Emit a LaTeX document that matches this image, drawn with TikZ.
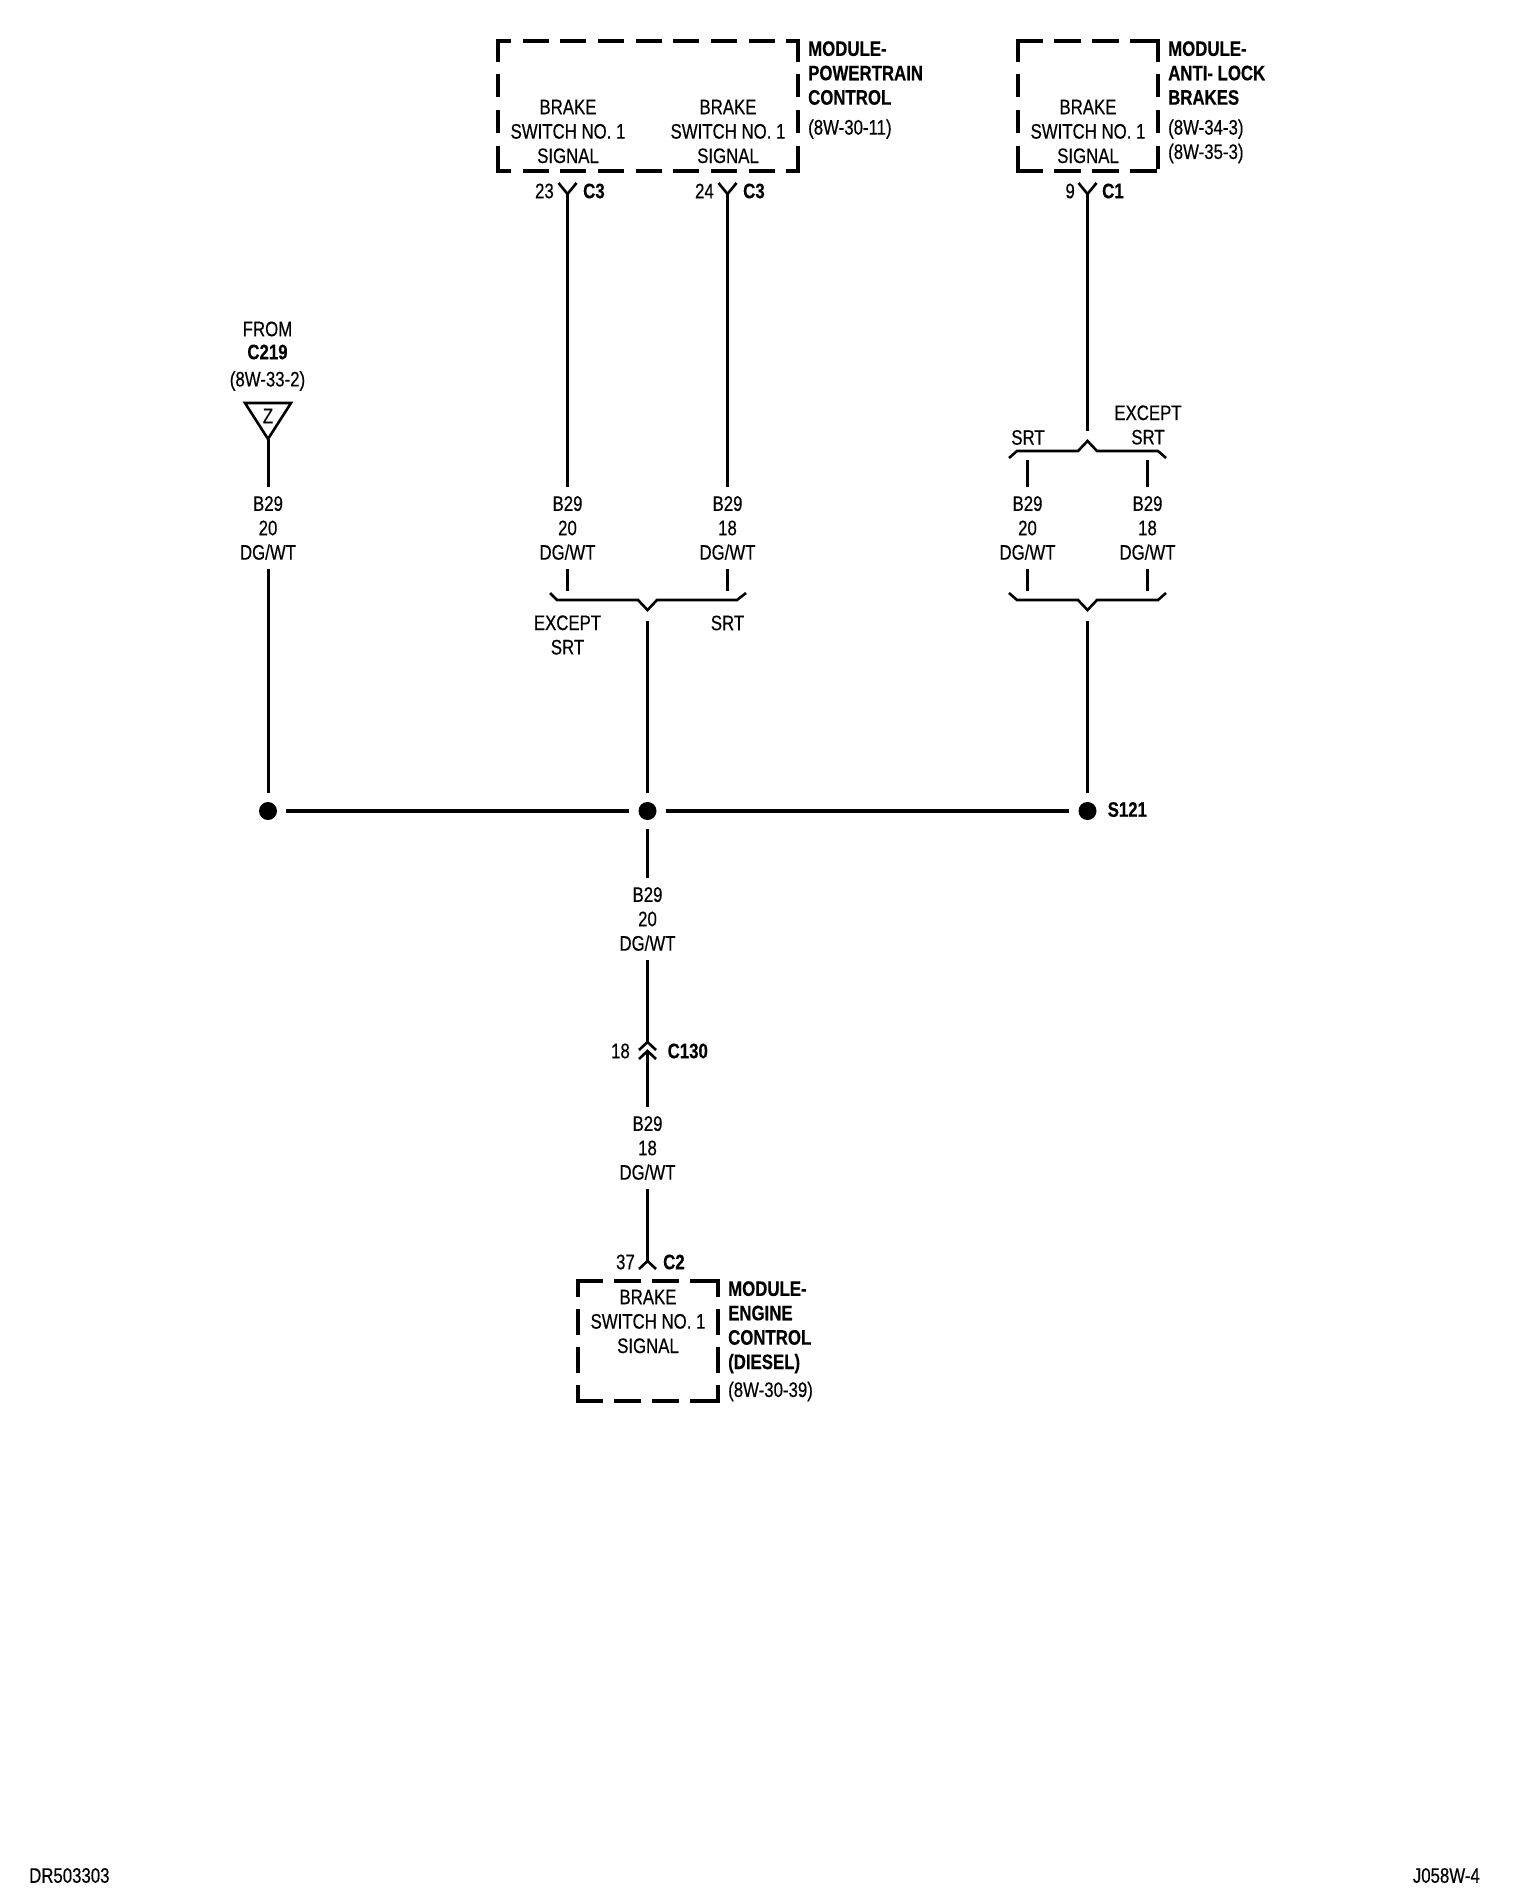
\documentclass[tikz,border=0pt]{standalone}
\usepackage{fontspec}
\setmainfont[FakeStretch=0.8,FakeBold=0.4]{Liberation Sans}
\usepackage{tikz}
\tikzstyle{wire} = [draw, line width=3pt]
\tikzstyle{bus} = [draw, line width=4pt]
\tikzstyle{brk} = [draw, line width=2.6pt]
\tikzstyle{txt} = [inner sep=0pt, align=center, font=\fontsize{21}{24.4}\selectfont]
\tikzstyle{wirelab} = [txt, minimum height=82pt]
\tikzstyle{sidelab} = [txt, anchor=north west, align=left]
\tikzstyle{pinl} = [txt, anchor=east]
\tikzstyle{pinr} = [txt, anchor=west, font=\fontsize{21}{24.4}\selectfont\bfseries]
\tikzstyle{module} = [rectangle, inner sep=0pt]
\tikzstyle{splice} = [circle, inner sep=0pt, minimum size=36pt,
    path picture={\fill (path picture bounding box.center) circle (9pt);}]
% name, then on/off/phase along the top, then on/off/phase down the sides
\newcommand{\modsides}[7]{
    \draw [line width=4pt, line cap=rect, dash pattern=on #2pt off #3pt, dash phase=#4pt]
        (#1.north west) -- (#1.north east) (#1.south west) -- (#1.south east);
    \draw [line width=4pt, line cap=rect, dash pattern=on #5pt off #6pt, dash phase=#7pt]
        (#1.north west) -- (#1.south west) (#1.north east) -- (#1.south east);
}
% forks that open up and forks that open down
\newcommand{\forkup}[1]{\draw [wire, line width=2.6pt] (#1) ++(-9,-11) -- (#1) -- ++(9,-11);}
\newcommand{\forkdown}[1]{\draw [wire, line width=2.6pt] (#1) ++(-8.5,8) -- (#1) -- ++(8.5,8);}
\begin{document}
\begin{tikzpicture}[x=1pt, y=-1pt]
    \useasboundingbox (0,0) rectangle (1520,1900);

    % The module boxes
    \node [module, minimum width=300pt, minimum height=130pt] (pcm) at (648,106) {};
    \node [module, minimum width=140pt, minimum height=130pt] (abs) at (1088,106) {};
    \node [module, minimum width=140pt, minimum height=120pt] (ecm) at (648,1341) {};
    \modsides{pcm}{22}{15.7}{11}{19}{16.7}{0}
    \modsides{abs}{23}{15}{0}{19}{16.7}{0}
    \modsides{ecm}{23}{15}{0}{22}{16}{8}

    \node [txt] (pcmleft) at (568,131.5) {BRAKE\\SWITCH NO. 1\\SIGNAL};
    \node [txt] (pcmright) at (728,131.5) {BRAKE\\SWITCH NO. 1\\SIGNAL};
    \node [txt] (abstext) at (1088,131.5) {BRAKE\\SWITCH NO. 1\\SIGNAL};
    \node [txt] (ecmtext) at (648,1321.5) {BRAKE\\SWITCH NO. 1\\SIGNAL};

    \node [sidelab] (pcmname) at (808,41)
        {\textbf{MODULE-}\\\textbf{POWERTRAIN}\\\textbf{CONTROL}\\[5.5pt](8W-30-11)};
    \node [sidelab] (absname) at (1168,41)
        {\textbf{MODULE-}\\\textbf{ANTI- LOCK}\\\textbf{BRAKES}\\[5.5pt](8W-34-3)\\(8W-35-3)};
    \node [sidelab] (ecmname) at (728,1281)
        {\textbf{MODULE-}\\\textbf{ENGINE}\\\textbf{CONTROL}\\\textbf{(DIESEL)}\\[3.5pt](8W-30-39)};

    % The connector forks at the modules
    \coordinate (forka) at (567.5,194);
    \coordinate (forkb) at (727.5,194);
    \coordinate (forkc) at (1087.5,194);
    \coordinate (forkd) at (647.5,1261);
    \forkup{forka}
    \forkup{forkb}
    \forkup{forkc}
    \forkdown{forkd}
    \node [pinl] (pina) at (554,191) {23};
    \node [pinr] (pinar) at (583,191) {C3};
    \node [pinl] (pinb) at (714,191) {24};
    \node [pinr] (pinbr) at (743,191) {C3};
    \node [pinl] (pinc) at (1075,191) {9};
    \node [pinr] (pincr) at (1102,191) {C1};
    \node [pinl] (pind) at (635,1262) {37};
    \node [pinr] (pindr) at (663,1262) {C2};

    % The source on the left
    \node [txt] (fromc) at (267.5,329) {FROM};
    \node [txt, font=\fontsize{21}{24.4}\selectfont\bfseries] (fromn) at (267.5,352) {C219};
    \node [txt] (fromref) at (267.5,381) {(8W-33-2)};
    \draw [wire, line width=2.6pt, line join=miter] (245,403) -- (291,403) -- (268,439) -- cycle;
    \coordinate (zapex) at (268,439);
    \node [txt] (zmark) at (268,416) {Z};

    % The wire labels
    \node [wirelab] (labz) at (268,528) {B29\\20\\DG/WT};
    \node [wirelab] (labe) at (567.5,528) {B29\\20\\DG/WT};
    \node [wirelab] (labf) at (727.5,528) {B29\\18\\DG/WT};
    \node [wirelab] (labg) at (1027.5,528) {B29\\20\\DG/WT};
    \node [wirelab] (labh) at (1147.5,528) {B29\\18\\DG/WT};
    \node [wirelab] (labi) at (647.5,919) {B29\\20\\DG/WT};
    \node [wirelab] (labj) at (647.5,1148) {B29\\18\\DG/WT};

    % The brackets
    \draw [brk] (550,593) -- (557,600) -- (638,600) -- (647.5,610) -- (657,600) -- (737,600) -- (746,593);
    \draw [brk] (1009,593) -- (1017,600) -- (1078,600) -- (1087.5,610) -- (1097,600) -- (1158,600) -- (1166,593);
    \draw [brk] (1009,458) -- (1017,451) -- (1078,451) -- (1087.5,441) -- (1097,451) -- (1158,451) -- (1166,458);
    \node [txt] (exceptl) at (567.5,635) {EXCEPT\\SRT};
    \node [txt] (srtl) at (727.5,623) {SRT};
    \node [txt] (srtr) at (1028,437.5) {SRT};
    \node [txt] (exceptr) at (1148,425) {EXCEPT\\SRT};

    \coordinate (brkeleft) at (567.5,591);
    \coordinate (brkeright) at (727.5,591);
    \coordinate (brkemid) at (647.5,621);
    \coordinate (brkgleft) at (1027.5,591);
    \coordinate (brkgright) at (1147.5,591);
    \coordinate (brkgmid) at (1087.5,621);
    \coordinate (brkuleft) at (1027.5,460);
    \coordinate (brkuright) at (1147.5,460);
    \coordinate (brkumid) at (1087.5,431);

    % The splices and the bus between them
    \node [splice] (spla) at (268,811) {};
    \node [splice] (splb) at (647.5,811) {};
    \node [splice] (splc) at (1087.5,811) {};
    \node [pinr] (splname) at (1107.5,809.5) {S121};
    \draw [bus] (spla) -- (splb);
    \draw [bus] (splb) -- (splc);

    % The connector in the lower wire
    \coordinate (cupper) at (647.5,1042);
    \coordinate (clower) at (647.5,1051);
    \forkdown{cupper}
    \forkdown{clower}
    \node [pinl] (cpin) at (630,1051) {18};
    \node [pinr] (cname) at (667.5,1051) {C130};

    % Once the nodes are placed, connecting them is easy
    \draw [wire] (zapex) -- (labz);
    \draw [wire] (labz) -- (spla);
    \draw [wire] (forka) -- (labe);
    \draw [wire] (forkb) -- (labf);
    \draw [wire] (labe) -- (brkeleft);
    \draw [wire] (labf) -- (brkeright);
    \draw [wire] (brkemid) -- (splb);
    \draw [wire] (forkc) -- (brkumid);
    \draw [wire] (brkuleft) -- (labg);
    \draw [wire] (brkuright) -- (labh);
    \draw [wire] (labg) -- (brkgleft);
    \draw [wire] (labh) -- (brkgright);
    \draw [wire] (brkgmid) -- (splc);
    \draw [wire] (splb) -- (labi);
    \draw [wire] (labi) -- (cupper);
    \draw [wire] (clower) -- (labj);
    \draw [wire] (labj) -- (forkd);

    % The drawing numbers
    \node [txt, anchor=west] (numleft) at (29,1875.5) {DR503303};
    \node [txt, anchor=east] (numright) at (1480,1875.5) {J058W-4};
\end{tikzpicture}
\end{document}
